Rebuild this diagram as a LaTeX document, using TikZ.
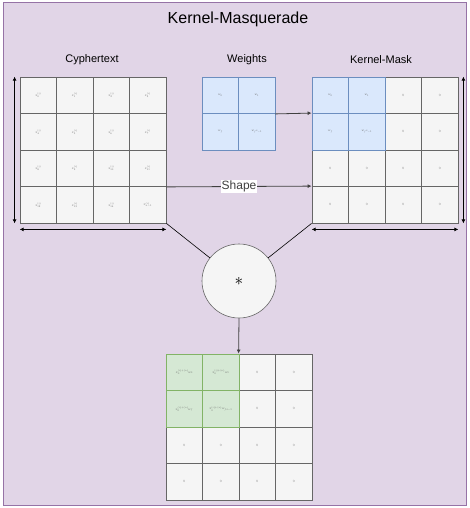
\documentclass[tikz,border=0pt]{standalone}
\usepackage{fontspec}
\usepackage{graphicx}
\setmainfont{Liberation Sans}
\usetikzlibrary{arrows.meta,positioning}
\definecolor{bgfill}{HTML}{E1D5E7}
\definecolor{bgdraw}{HTML}{9673A6}
\definecolor{cellfill}{HTML}{F5F5F5}
\definecolor{celldraw}{HTML}{666666}
\definecolor{wfill}{HTML}{DAE8FC}
\definecolor{wdraw}{HTML}{6C8EBF}
\definecolor{rfill}{HTML}{D5E8D4}
\definecolor{rdraw}{HTML}{82B366}
% tiny cell entries
\newcommand{\ct}[1]{\scalebox{0.42}{$#1$}}
\tikzset{
  cell/.style={rectangle, draw=celldraw, fill=cellfill, line width=0.8pt,
    minimum size=36.5pt, inner sep=0pt, font=\fontsize{8}{9}\selectfont, text=black!60},
  wcell/.style={cell, draw=wdraw, fill=wfill},
  rcell/.style={cell, draw=rdraw, fill=rfill},
  lbl/.style={font=\fontsize{11}{13}\selectfont, inner sep=1pt},
  conv/.style={circle, draw=celldraw, fill=cellfill, line width=0.6pt,
    minimum size=74pt, inner sep=0pt, font=\fontsize{18}{18}\selectfont},
  arr/.style={-{Latex[length=4pt,width=4pt]}, line width=0.8pt, black!75},
  dim/.style={{Latex[length=4pt,width=4pt]}-{Latex[length=4pt,width=4pt]}, line width=0.8pt, black},
  joinline/.style={line width=0.6pt, black},
}

\begin{document}
\begin{tikzpicture}[x=1pt, y=-1pt]
\useasboundingbox (0,0) rectangle (469,508);

% ================= BACKGROUND =================
\draw[draw=bgdraw, fill=bgfill, line width=1pt] (3.5,3) rectangle (466,505);
\node[font=\fontsize{16}{18}\selectfont] (title) at (238,19) {Kernel-Masquerade};

% ================= CYPHERTEXT =================
\foreach \r in {0,...,3}
  \foreach \c in {0,...,3} {
    \pgfmathtruncatemacro\k{4*\r+\c}
    \ifnum\k=15 \def\k{n-1}\fi
    \node[cell] (x\r\c) at (38.25+36.5*\c, 95.25+36.5*\r) {\ct{x^{(i)}_{\k}}};
  }
\node[lbl] (lcipher) at (92,60) {Cyphertext};

% ================= WEIGHTS =================
\node[wcell] (w00) at (220.25,95.25) {\ct{w_0}};
\node[wcell] (w01) at (256.75,95.25) {\ct{w_1}};
\node[wcell] (w10) at (220.25,131.75) {\ct{w_f}};
\node[wcell] (w11) at (256.75,131.75) {\ct{w_{f^2-1}}};
\node[lbl] (lweights) at (247,60) {Weights};

% ================= KERNEL-MASK =================
\foreach \r/\c in {0/2,0/3,1/2,1/3,2/0,2/1,2/2,2/3,3/0,3/1,3/2,3/3}
  \node[cell] (m\r\c) at (330.25+36.5*\c, 95.25+36.5*\r) {\ct{0}};
\node[wcell] (m00) at (330.25,95.25) {\ct{w_0}};
\node[wcell] (m01) at (366.75,95.25) {\ct{w_1}};
\node[wcell] (m10) at (330.25,131.75) {\ct{w_f}};
\node[wcell] (m11) at (366.75,131.75) {\ct{w_{f^2-1}}};
\node[lbl] (lmask) at (381,60) {Kernel-Mask};

% ================= CONVOLUTION =================
\node[conv] (star) at (239,281) {$\ast$};

% ================= RESULT =================
\foreach \r/\c in {0/2,0/3,1/2,1/3,2/0,2/1,2/2,2/3,3/0,3/1,3/2,3/3}
  \node[cell] (y\r\c) at (184.25+36.5*\c, 372.25+36.5*\r) {\ct{0}};
\node[rcell] (y00) at (184.25,372.25) {\ct{x^{(i)+(n)}_0 w_0}};
\node[rcell] (y01) at (220.75,372.25) {\ct{x^{(i)+(n)}_0 w_1}};
\node[rcell] (y10) at (184.25,408.75) {\ct{x^{(i)+(n)}_0 w_f}};
\node[rcell] (y11) at (220.75,408.75) {\ct{x^{(i)+(n)}_0 w_{f^2-1}}};

% ================= ARROWS =================
\draw[arr] (w01.south east) -- (m10.north west);
\draw[arr] (x23.south east) -- (m30.north west)
  node[midway, fill=white, inner sep=1pt, font=\fontsize{12}{14}\selectfont] {Shape};
\draw[joinline] (x33.south east) -- (star);
\draw[joinline] (m30.south west) -- (star);
\draw[arr] (star.south) -- (y02.north west);

% dimension arrows
\draw[dim] ([xshift=-5pt]x00.north west) -- ([xshift=-5pt]x30.south west);
\draw[dim] ([yshift=-6pt]x30.south west) -- ([yshift=-6pt]x33.south east);
\draw[dim] ([xshift=5pt]m03.north east) -- ([xshift=5pt]m33.south east);
\draw[dim] ([yshift=-6pt]m30.south west) -- ([yshift=-6pt]m33.south east);

\end{tikzpicture}
\end{document}
